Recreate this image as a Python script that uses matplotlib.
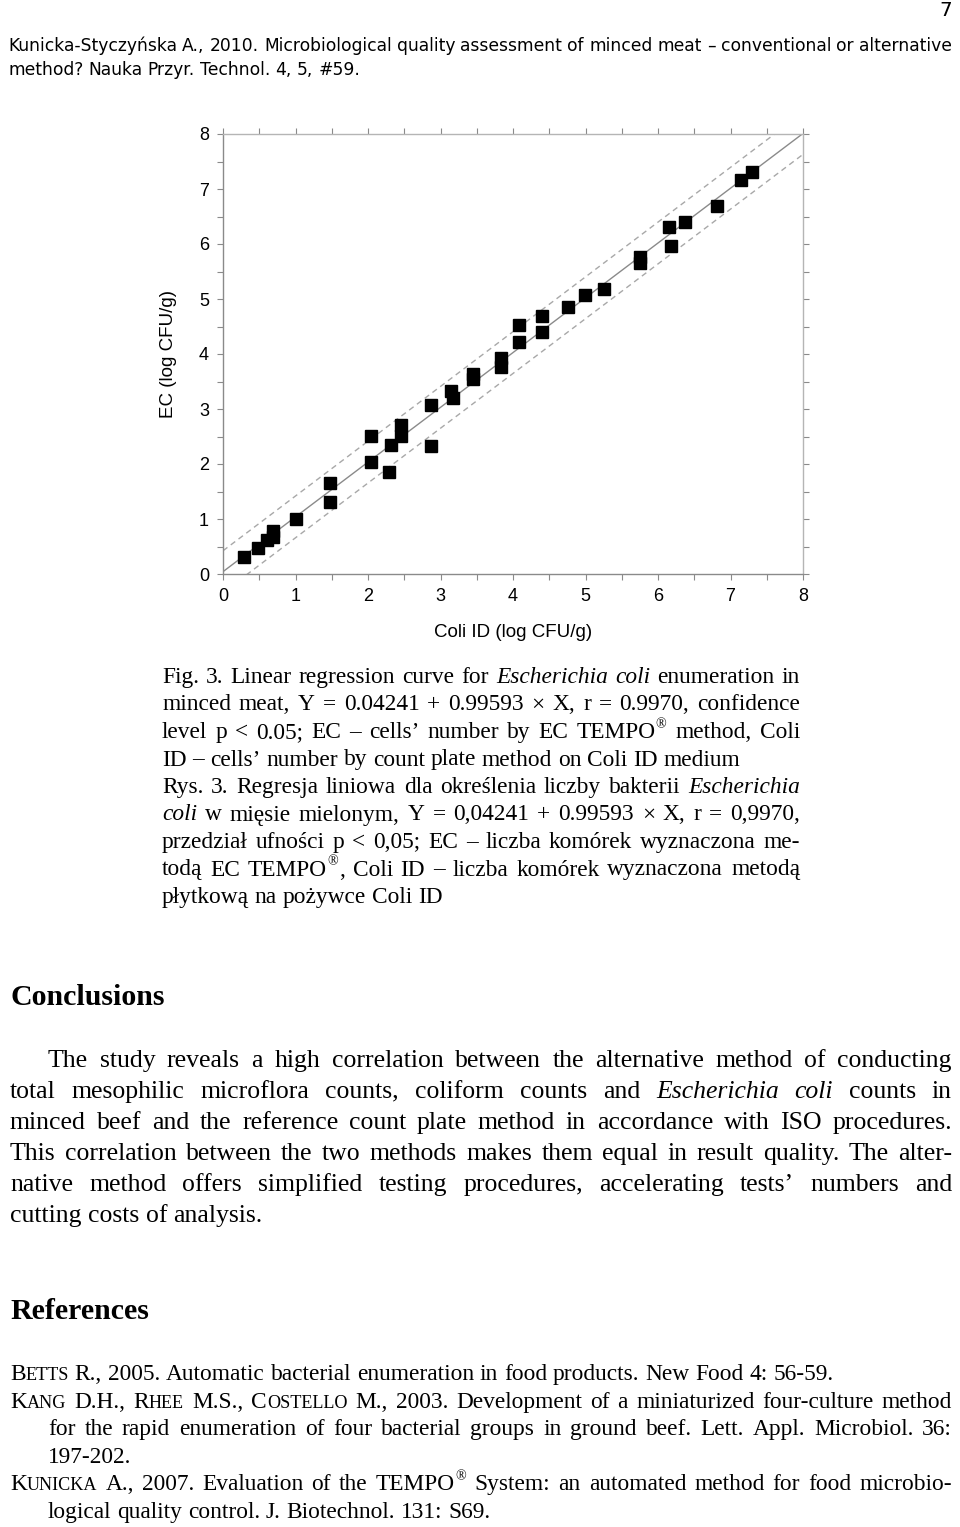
import matplotlib
matplotlib.use("Agg")
import matplotlib.pyplot as plt
from matplotlib.ticker import MultipleLocator

# data (log CFU/g)
coli_id = [0.29, 0.48, 0.60, 0.69, 0.69, 1.00, 1.48, 1.48, 2.04, 2.04, 2.29, 2.32,
           2.46, 2.46, 2.87, 2.87, 3.14, 3.17, 3.45, 3.45, 3.83, 3.83, 4.08, 4.08,
           4.40, 4.40, 4.76, 4.99, 5.26, 5.75, 5.75, 6.15, 6.18, 6.37, 6.81, 7.14, 7.30]
ec_tempo = [0.31, 0.48, 0.61, 0.67, 0.78, 1.00, 1.31, 1.65, 2.04, 2.51, 1.85, 2.35,
            2.51, 2.71, 3.07, 2.33, 3.33, 3.20, 3.55, 3.64, 3.76, 3.93, 4.22, 4.53,
            4.40, 4.69, 4.85, 5.07, 5.18, 5.66, 5.76, 6.31, 5.96, 6.40, 6.69, 7.16, 7.31]
intercept = 0.04241
slope = 0.99593
band = 0.38
line_x = [0, 8]
ticks = [0, 1, 2, 3, 4, 5, 6, 7, 8]

W, H = 960, 1527
fig = plt.figure(figsize=(W / 100, H / 100), dpi=100)

# ---- chart
ax = fig.add_axes([223 / W, 1 - 574 / H, 580 / W, 440 / H])
fit_y = [intercept + slope * x for x in line_x]
ax.plot(line_x, fit_y, color='#8a8a8a', lw=1.0, zorder=2)
ax.plot(line_x, [y + band for y in fit_y], color='#a8a8a8', lw=1.0, ls=(0, (4, 3)), zorder=2)
ax.plot(line_x, [y - band for y in fit_y], color='#a8a8a8', lw=1.0, ls=(0, (4, 3)), zorder=2)
ax.plot(coli_id, ec_tempo, 's', color='black', markersize=8.5, zorder=3, clip_on=False)
ax.set_xlim(0, 8)
ax.set_ylim(0, 8)
ax.set_xticks(ticks)
ax.set_yticks(ticks)
ax.xaxis.set_minor_locator(MultipleLocator(0.5))
ax.yaxis.set_minor_locator(MultipleLocator(0.5))
for side in ['left', 'bottom']:
    ax.spines[side].set_color('#8a8a8a')
for side in ['top', 'right']:
    ax.spines[side].set_color('#b5b5b5')
for sp in ax.spines.values():
    sp.set_linewidth(1.0)
ax.tick_params(which='both', direction='out', length=4, width=0.8, color='#8a8a8a',
               labelsize=13, pad=6)
ax.tick_params(which='both', top=True, right=True)
for t in ax.get_xticklabels() + ax.get_yticklabels():
    t.set_family('Liberation Sans')
ax.set_xlabel('Coli ID (log CFU/g)', family='Liberation Sans', fontsize=13.5, labelpad=14)
ax.set_ylabel('EC (log CFU/g)', family='Liberation Sans', fontsize=13.5, labelpad=16)

# ---- page text
renderer = fig.canvas.get_renderer()


def parse(markup):
    words, word, buf, style = [], [], '', 'r'
    marks = {'_': 'i', '~': 'sc', '^': 'sup'}
    for ch in markup:
        if ch in marks:
            if buf:
                word.append((buf, style))
                buf = ''
            style = 'r' if style == marks[ch] else marks[ch]
        elif ch == ' ':
            if buf:
                word.append((buf, style))
                buf = ''
            if word:
                words.append(word)
            word = []
        else:
            buf += ch
    if buf:
        word.append((buf, style))
    if word:
        words.append(word)
    return words


def draw_line(markup, x0, base, size, x1=None, family='Liberation Serif', weight='normal',
              space=0.25):
    em = size * 100 / 72
    placed, widths = [], []
    for word in parse(markup):
        segs, w = [], 0
        for text, style in word:
            fs, dy, st = size, 0, 'normal'
            if style == 'i':
                st = 'italic'
            elif style == 'sc':
                fs = size * 0.78
            elif style == 'sup':
                fs = size * 0.6
                dy = em * 0.42
            t = fig.text(0, 0, text, fontsize=fs, family=family, style=st, weight=weight,
                         ha='left', va='baseline')
            segs.append((t, w, dy))
            w += t.get_window_extent(renderer).width + (1 if style == 'sup' else 0)
        placed.append(segs)
        widths.append(w)
    gap = em * space
    if x1 is not None and len(widths) > 1:
        gap = (x1 - x0 - sum(widths)) / (len(widths) - 1)
    x = x0
    for segs, w in zip(placed, widths):
        for t, off, dy in segs:
            t.set_position(((x + off) / W, 1 - (base - dy) / H))
        x += w + gap


head = dict(family='DejaVu Sans', size=12.3, space=0.3)
fig.text(952 / W, 1 - 16 / H, '7', fontsize=14.5, family='DejaVu Sans',
         ha='right', va='baseline')
draw_line('Kunicka-Styczyńska A., 2010. Microbiological quality assessment of minced meat '
          '– conventional or alternative', 8, 51, x1=952, **head)
draw_line('method? Nauka Przyr. Technol. 4, 5, #59.', 8, 75, **head)

caption = [
    ('Fig. 3. Linear regression curve for _Escherichia coli_ enumeration in', True),
    ('minced meat, Y = 0.04241 + 0.99593 × X, r = 0.9970, confidence', True),
    ('level p < 0.05; EC – cells’ number by EC TEMPO^®^ method, Coli', True),
    ('ID – cells’ number by count plate method on Coli ID medium', False),
    ('Rys. 3. Regresja liniowa dla określenia liczby bakterii _Escherichia_', True),
    ('_coli_ w mięsie mielonym, Y = 0,04241 + 0.99593 × X, r = 0,9970,', True),
    ('przedział ufności p < 0,05; EC – liczba komórek wyznaczona me-', True),
    ('todą EC TEMPO^®^, Coli ID – liczba komórek wyznaczona metodą', True),
    ('płytkową na pożywce Coli ID', False),
]
for k, (txt, just) in enumerate(caption):
    draw_line(txt, 162, 683 + 27.5 * k, 16.8, x1=800 if just else None)

fig.text(10 / W, 1 - 1005 / H, 'Conclusions', fontsize=21.5, family='Liberation Serif',
         weight='bold', ha='left', va='baseline')
body = [
    ('The study reveals a high correlation between the alternative method of conducting', True),
    ('total mesophilic microflora counts, coliform counts and _Escherichia coli_ counts in', True),
    ('minced beef and the reference count plate method in accordance with ISO procedures.', True),
    ('This correlation between the two methods makes them equal in result quality. The alter-', True),
    ('native method offers simplified testing procedures, accelerating tests’ numbers and', True),
    ('cutting costs of analysis.', False),
]
for k, (txt, just) in enumerate(body):
    draw_line(txt, 48 if k == 0 else 10, 1067 + 31 * k, 18.5, x1=952 if just else None)

fig.text(10 / W, 1 - 1319 / H, 'References', fontsize=21.5, family='Liberation Serif',
         weight='bold', ha='left', va='baseline')
refs = [
    ('B~ETTS~ R., 2005. Automatic bacterial enumeration in food products. New Food 4: 56-59.', 10, False),
    ('K~ANG~ D.H., R~HEE~ M.S., C~OSTELLO~ M., 2003. Development of a miniaturized four-culture method', 10, True),
    ('for the rapid enumeration of four bacterial groups in ground beef. Lett. Appl. Microbiol. 36:', 48, True),
    ('197-202.', 48, False),
    ('K~UNICKA~ A., 2007. Evaluation of the TEMPO^®^ System: an automated method for food microbio-', 10, True),
    ('logical quality control. J. Biotechnol. 131: S69.', 48, False),
]
for k, (txt, x0, just) in enumerate(refs):
    draw_line(txt, x0, 1380 + 27.6 * k, 16.8, x1=952 if just else None)

fig.savefig('out.png', dpi=100)
